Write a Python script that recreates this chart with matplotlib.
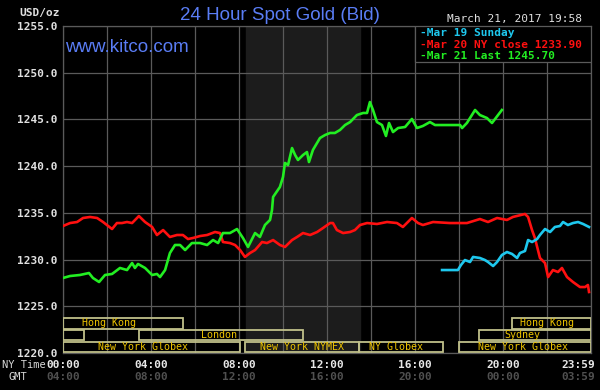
import matplotlib
matplotlib.use("Agg")
import matplotlib.pyplot as plt
import matplotlib.transforms as mtransforms
from matplotlib.patches import Rectangle

# Mar 21 (green), hours NY time / price
green_h = [0.0, 0.32, 0.77, 1.18, 1.36, 1.64, 1.91, 2.23, 2.59, 2.91, 3.14, 3.27, 3.41, 3.73,
           4.05, 4.27, 4.41, 4.64, 4.86, 5.09, 5.32, 5.55, 5.86, 6.23, 6.55, 6.82, 7.05, 7.27,
           7.59, 7.91, 8.18, 8.41, 8.73, 8.95, 9.18, 9.41, 9.50, 9.55, 9.86, 10.0, 10.09, 10.23,
           10.41, 10.55, 10.68, 10.91, 11.09, 11.18, 11.36, 11.68, 11.91, 12.14, 12.36, 12.59,
           12.82, 13.05, 13.36, 13.64, 13.82, 13.95, 14.09, 14.27, 14.50, 14.68, 14.82, 15.0,
           15.23, 15.55, 15.86, 16.09, 16.36, 16.68, 16.91, 18.05, 18.14, 18.36, 18.73, 18.95,
           19.27, 19.50, 19.95]
green_p = [1228.03, 1228.24, 1228.35, 1228.56, 1228.03, 1227.60, 1228.35, 1228.46, 1229.10,
           1228.88, 1229.63, 1229.10, 1229.53, 1229.10, 1228.35, 1228.46, 1228.13, 1228.88,
           1230.70, 1231.56, 1231.56, 1231.02, 1231.77, 1231.77, 1231.56, 1232.09, 1231.77,
           1232.84, 1232.84, 1233.27, 1232.31, 1231.35, 1232.84, 1232.42, 1233.70, 1234.24,
           1235.31, 1236.70, 1237.77, 1238.84, 1240.34, 1240.12, 1241.94, 1241.19, 1240.66,
           1241.19, 1241.51, 1240.44, 1241.73, 1243.01, 1243.33, 1243.55, 1243.55, 1243.87,
           1244.40, 1244.72, 1245.47, 1245.69, 1245.69, 1246.86, 1246.01, 1244.72, 1244.40,
           1243.23, 1244.62, 1243.65, 1244.08, 1244.19, 1245.05, 1244.08, 1244.30, 1244.72,
           1244.40, 1244.40, 1244.08, 1244.62, 1246.01, 1245.47, 1245.15, 1244.62, 1246.01]

# Mar 20 (red)
red_h = [0.0, 0.32, 0.64, 0.91, 1.23, 1.55, 1.82, 2.23, 2.45, 2.68, 2.91, 3.14, 3.45, 3.73,
         4.05, 4.27, 4.55, 4.86, 5.18, 5.45, 5.68, 5.91, 6.23, 6.55, 6.91, 7.14, 7.27, 7.59,
         7.82, 8.05, 8.27, 8.50, 8.73, 9.05, 9.27, 9.55, 9.86, 10.09, 10.41, 10.64, 10.91,
         11.23, 11.55, 11.82, 12.14, 12.27, 12.45, 12.73, 13.05, 13.27, 13.50, 13.82, 14.27,
         14.73, 15.18, 15.45, 15.86, 16.14, 16.36, 16.82, 17.59, 18.36, 18.95, 19.32, 19.73,
         20.18, 20.45, 21.00, 21.14, 21.32, 21.45, 21.68, 21.91, 22.05, 22.27, 22.50, 22.68,
         22.91, 23.18, 23.50, 23.73, 23.86, 23.91]
red_p = [1233.59, 1233.91, 1234.02, 1234.45, 1234.56, 1234.45, 1234.02, 1233.27, 1233.91,
         1233.91, 1234.02, 1233.91, 1234.66, 1234.02, 1233.49, 1232.63, 1233.16, 1232.42,
         1232.63, 1232.63, 1232.20, 1232.31, 1232.52, 1232.63, 1232.95, 1232.84, 1231.88,
         1231.77, 1231.56, 1231.02, 1230.28, 1230.70, 1231.02, 1231.88, 1231.77, 1232.09,
         1231.56, 1231.35, 1232.09, 1232.42, 1232.84, 1232.63, 1232.95, 1233.38, 1233.91,
         1233.91, 1233.16, 1232.84, 1232.95, 1233.16, 1233.70, 1233.91, 1233.81, 1234.02,
         1233.91, 1233.49, 1234.45, 1233.91, 1233.70, 1234.02, 1233.91, 1233.91, 1234.34,
         1234.02, 1234.45, 1234.24, 1234.56, 1234.88, 1234.56, 1233.16, 1232.31, 1230.17,
         1229.63, 1228.13, 1228.88, 1228.67, 1229.10, 1228.13, 1227.60, 1227.06, 1227.06,
         1227.28, 1226.53]

# Mar 19 Sunday (cyan)
cyan_h = [17.23, 17.95, 18.09, 18.27, 18.5, 18.64, 18.95, 19.18, 19.32, 19.55, 19.73, 19.95,
          20.18, 20.41, 20.64, 20.77, 21.0, 21.14, 21.32, 21.55, 21.68, 21.91, 22.14, 22.36,
          22.59, 22.73, 22.95, 23.18, 23.41, 23.64, 23.91]
cyan_p = [1228.88, 1228.88, 1229.42, 1229.95, 1229.74, 1230.28, 1230.17, 1229.95, 1229.74,
          1229.31, 1229.74, 1230.49, 1230.81, 1230.60, 1230.17, 1230.70, 1230.92, 1232.09,
          1231.88, 1232.20, 1232.63, 1233.27, 1232.95, 1233.49, 1233.59, 1234.02, 1233.70,
          1233.91, 1234.02, 1233.81, 1233.49]

# trading sessions: start, end, row (0 = bottom), label, label hour
sess_start = [0.0, 20.4, 0.0, 3.45, 18.9, 0.0, 8.27, 13.45, 18.0]
sess_end = [5.45, 24.0, 0.95, 10.9, 24.0, 8.05, 13.45, 17.27, 24.0]
sess_row = [2, 2, 1, 1, 1, 0, 0, 0, 0]
sess_label = ["Hong Kong", "Hong Kong", "", "London", "Sydney",
              "New York Globex", "New York NYMEX", "NY Globex", "New York Globex"]
sess_label_h = [2.1, 22.0, 0.5, 7.1, 20.9, 3.65, 10.86, 15.15, 20.9]

ny_ticks = [0, 4, 8, 12, 16, 20, 23.4]
ny_labels = ["00:00", "04:00", "08:00", "12:00", "16:00", "20:00", "23:59"]
gmt_labels = ["04:00", "08:00", "12:00", "16:00", "20:00", "00:00", "03:59"]

mono = "DejaVu Sans Mono"
grid_c = "#5a5a5a"

fig = plt.figure(figsize=(6, 3.9), dpi=100, facecolor="black")
ax = fig.add_axes([63 / 600, 1 - 353 / 390, 528 / 600, 327 / 390])
ax.set_facecolor("black")
ax.set_xlim(0, 24)
ax.set_ylim(1220, 1255)

# COMEX shading
ax.axvspan(8.33, 13.5, color="#1c1c1c", zorder=0)

ax.set_xticks(range(0, 25, 2))
ax.set_xticklabels([])
ax.set_yticks(range(1220, 1256, 5))
ax.set_yticklabels(["%.1f" % v for v in range(1220, 1256, 5)],
                   family=mono, fontsize=8, fontweight="bold", color="#e0e0e0")
ax.tick_params(length=0, pad=4)
ax.grid(True, color=grid_c, linewidth=0.9)
ax.set_axisbelow(True)
for s in ax.spines.values():
    s.set_color(grid_c)
    s.set_linewidth(0.9)

ax.plot(red_h, red_p, color="#ff1010", linewidth=1.9, zorder=4)
ax.plot(cyan_h, cyan_p, color="#1ec8ee", linewidth=1.9, zorder=4)
ax.plot(green_h, green_p, color="#22ee22", linewidth=1.9, zorder=5)

# session rows
row_h = 1.28
for i in range(len(sess_start)):
    y0 = 1220 + sess_row[i] * row_h
    ax.add_patch(Rectangle((sess_start[i], y0 + 0.06), sess_end[i] - sess_start[i], row_h - 0.12,
                           facecolor="none", edgecolor="#c0c08a", linewidth=1.3, zorder=3))
    if sess_label[i]:
        ax.text(sess_label_h[i], y0 + row_h / 2, sess_label[i], ha="center", va="center",
                family=mono, fontsize=7.2, color="#eec400", zorder=6)

# legend box
ax.add_patch(Rectangle((16.0, 1251.15), 8.0, 3.85, facecolor="black", edgecolor=grid_c,
                       linewidth=0.9, zorder=6))
leg_txt = ["-Mar 19 Sunday", "-Mar 20 NY close 1233.90", "-Mar 21 Last 1245.70"]
leg_col = ["#1ec8ee", "#ff1010", "#22ee22"]
leg_y = [1254.2, 1253.0, 1251.8]
for t, c, y in zip(leg_txt, leg_col, leg_y):
    ax.text(16.25, y, t, color=c, family=mono, fontsize=8, fontweight="bold",
            va="center", ha="left", zorder=7)

# time axis labels
tr = mtransforms.blended_transform_factory(ax.transData, fig.transFigure)
for h, a, b in zip(ny_ticks, ny_labels, gmt_labels):
    ax.text(h, 1 - 365 / 390, a, transform=tr, ha="center", va="center", family=mono,
            fontsize=8, fontweight="bold", color="#e8e8e8", clip_on=False)
    ax.text(h, 1 - 377 / 390, b, transform=tr, ha="center", va="center", family=mono,
            fontsize=8, fontweight="bold", color="#505050", clip_on=False)
fig.text(2 / 600, 1 - 365 / 390, "NY Time", family=mono, fontsize=7.5, color="#d8d8d8",
         ha="left", va="center")
fig.text(18 / 600, 1 - 377 / 390, "GMT", family=mono, fontsize=7.5, color="#d8d8d8",
         ha="center", va="center")

# titles
fig.text(280 / 600, 1 - 15 / 390, "24 Hour Spot Gold (Bid)", family="Liberation Sans",
         fontsize=13.5, color="#5a7df5", ha="center", va="center")
fig.text(65 / 600, 1 - 47 / 390, "www.kitco.com", family="Liberation Sans",
         fontsize=13.5, color="#5a7df5", ha="left", va="center")
fig.text(447 / 600, 1 - 19 / 390, "March 21, 2017 19:58", family=mono, fontsize=8,
         color="#e0e0e0", ha="left", va="center")
fig.text(19 / 600, 1 - 13 / 390, "USD/oz", family=mono, fontsize=8, fontweight="bold",
         color="#e0e0e0", ha="left", va="center")

fig.savefig("out.png", dpi=100, facecolor="black")
